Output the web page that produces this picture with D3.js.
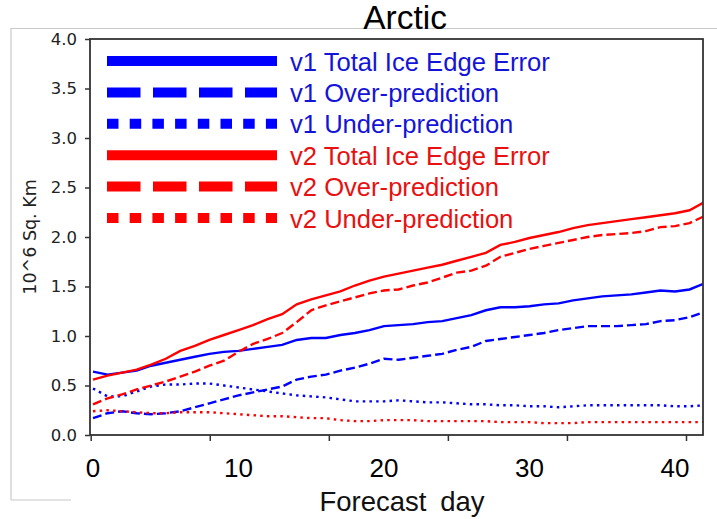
<!DOCTYPE html>
<html><head><meta charset="utf-8">
<script src="https://cdn.jsdelivr.net/npm/d3@7"></script>
<style>html,body{margin:0;padding:0;background:#fff;}svg{display:block;}</style>
</head><body><svg id="c" width="717" height="519"></svg>
<script>
const days = d3.range(0, 43);
const v1Total = [0.64,0.61,0.63,0.65,0.70,0.73,0.76,0.79,0.82,0.84,0.85,0.87,0.89,0.91,0.96,0.98,0.98,1.01,1.03,1.06,1.10,1.11,1.12,1.14,1.15,1.18,1.21,1.26,1.29,1.29,1.30,1.32,1.33,1.36,1.38,1.40,1.41,1.42,1.44,1.46,1.45,1.47,1.53];
const v1Over = [0.17,0.22,0.24,0.22,0.21,0.22,0.24,0.28,0.32,0.36,0.40,0.43,0.46,0.49,0.56,0.59,0.61,0.65,0.68,0.72,0.77,0.76,0.78,0.80,0.82,0.86,0.89,0.95,0.97,0.99,1.01,1.03,1.06,1.08,1.10,1.10,1.10,1.11,1.12,1.15,1.16,1.19,1.24];
const v1Under = [0.47,0.39,0.39,0.44,0.49,0.51,0.51,0.52,0.52,0.50,0.48,0.46,0.44,0.42,0.40,0.39,0.38,0.36,0.34,0.34,0.34,0.35,0.34,0.33,0.33,0.32,0.31,0.31,0.30,0.30,0.29,0.29,0.28,0.29,0.30,0.30,0.30,0.30,0.30,0.30,0.29,0.29,0.30];
const v2Total = [0.56,0.60,0.63,0.66,0.71,0.77,0.85,0.90,0.96,1.01,1.06,1.11,1.17,1.22,1.32,1.37,1.41,1.45,1.51,1.56,1.60,1.63,1.66,1.69,1.72,1.76,1.80,1.84,1.92,1.95,1.99,2.02,2.05,2.09,2.12,2.14,2.16,2.18,2.20,2.22,2.24,2.27,2.35];
const v2Over = [0.31,0.37,0.41,0.46,0.50,0.54,0.59,0.64,0.70,0.75,0.84,0.92,0.97,1.03,1.14,1.26,1.31,1.35,1.39,1.43,1.46,1.47,1.51,1.54,1.59,1.64,1.66,1.71,1.80,1.84,1.88,1.91,1.94,1.97,2.00,2.02,2.03,2.04,2.06,2.10,2.11,2.14,2.21];
const v2Under = [0.24,0.25,0.24,0.23,0.22,0.22,0.23,0.23,0.23,0.22,0.21,0.20,0.19,0.19,0.18,0.17,0.17,0.15,0.14,0.14,0.15,0.15,0.15,0.14,0.14,0.14,0.14,0.14,0.13,0.13,0.13,0.12,0.12,0.12,0.13,0.13,0.13,0.13,0.13,0.13,0.13,0.13,0.13];
const seriesNames = ["v1 Total Ice Edge Error","v1 Over-prediction","v1 Under-prediction","v2 Total Ice Edge Error","v2 Over-prediction","v2 Under-prediction"];
const seriesColors = ["#0000ff","#0000ff","#0000ff","#ff0000","#ff0000","#ff0000"];
const seriesStyles = ["solid","dashed","dotted","solid","dashed","dotted"];
const yTicks = [0.0,0.5,1.0,1.5,2.0,2.5,3.0,3.5,4.0];
const xTickMarks = [0,10,20,30,40,50];
const xTickLabels = [0,10,20,30,40];
const seriesValues = [v1Total,v1Over,v1Under,v2Total,v2Over,v2Under];

const svg = d3.select("#c");
const L = 90, R = 703, T = 39, B = 435;
const x = d3.scaleLinear().domain([0,40]).range([93,675]);
const xMarks = d3.scaleLinear().domain([0,50]).range([90.7,686]);
const y = d3.scaleLinear().domain([0,4]).range([B,T]);

// gray outer border remnants
svg.append("path").attr("d", `M11,500 L11,28.5 L717,28.5 M11,500 L71,500`)
  .attr("fill","none").attr("stroke","#c8c8c8").attr("stroke-width",1.2);

svg.append("defs").append("clipPath").attr("id","clip")
  .append("rect").attr("x",L).attr("y",T).attr("width",R-L).attr("height",B-T);

const dashPlot = {solid:null, dashed:"9,4", dotted:"2.5,4.2"};
const line = d3.line().x((d,i)=>x(days[i])).y(d=>y(d));
const g = svg.append("g").attr("clip-path","url(#clip)");
seriesValues.forEach((vals,k)=>{
  g.append("path").datum(vals).attr("d",line).attr("fill","none")
    .attr("stroke",seriesColors[k]).attr("stroke-width",2.4)
    .attr("stroke-dasharray",dashPlot[seriesStyles[k]]);
});

// frame
svg.append("rect").attr("x",L).attr("y",T).attr("width",R-L).attr("height",B-T)
  .attr("fill","none").attr("stroke","#333").attr("stroke-width",1.8);

// y axis
const ya = svg.append("g").attr("transform",`translate(${L},0)`)
  .call(d3.axisLeft(y).tickValues(yTicks).tickFormat(d3.format(".1f")).tickSize(5).tickPadding(8));
ya.select(".domain").remove();
ya.selectAll("line").attr("stroke","#333").attr("stroke-width",1.5);
ya.selectAll("text").attr("font-family","DejaVu Sans").attr("font-size",16.5).attr("fill","#222");

// x axis tick marks
const xa = svg.append("g").attr("transform",`translate(0,${B})`)
  .call(d3.axisBottom(xMarks).tickValues(xTickMarks).tickFormat("").tickSize(6));
xa.select(".domain").remove();
xa.selectAll("line").attr("stroke","#333").attr("stroke-width",1.5);

// x tick labels
svg.append("g").selectAll("text").data(xTickLabels).join("text")
  .attr("x",d=>x(d)).attr("y",477).attr("text-anchor","middle")
  .attr("font-family","Liberation Sans, Arial, sans-serif").attr("font-size",26).attr("fill","#000")
  .text(d=>d);

// axis titles
svg.append("text").attr("x",402).attr("y",511).attr("text-anchor","middle")
  .attr("font-family","Liberation Sans, Arial, sans-serif").attr("font-size",27.5)
  .attr("word-spacing","6px").attr("fill","#111").text("Forecast day");
svg.append("text").attr("transform","translate(36,237) rotate(-90)").attr("text-anchor","middle")
  .attr("font-family","DejaVu Sans").attr("font-size",17.5).attr("fill","#222").text("10^6 Sq. Km");

// title
svg.append("text").attr("x",405).attr("y",29).attr("text-anchor","middle")
  .attr("font-family","Liberation Sans, Arial, sans-serif").attr("font-size",33.5).attr("fill","#000").text("Arctic");

// legend
const dashLeg = {solid:null, dashed:"33.5,12.5", dotted:"11.5,11.2"};
const legY = d3.scaleLinear().domain([0,5]).range([61,218]);
const lg = svg.append("g");
seriesNames.forEach((name,k)=>{
  lg.append("line").attr("x1",107).attr("x2",277).attr("y1",legY(k)).attr("y2",legY(k))
    .attr("stroke",seriesColors[k]).attr("stroke-width",10)
    .attr("stroke-dasharray",dashLeg[seriesStyles[k]]);
  lg.append("text").attr("x",290).attr("y",legY(k)+9.5)
    .attr("font-family","Liberation Sans, Arial, sans-serif").attr("font-size",25.6)
    .attr("fill",seriesColors[k]==="#0000ff"?"#1414d8":"#e81010").text(name);
});
</script></body></html>
